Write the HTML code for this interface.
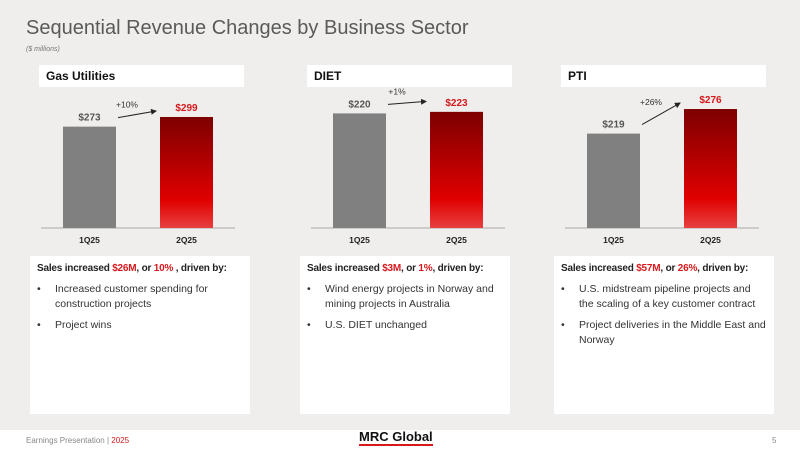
<!DOCTYPE html>
<html><head><meta charset="utf-8"><style>
body{margin:0;width:800px;height:450px;overflow:hidden;background:#fff;font-family:"Liberation Sans",sans-serif}
#bg{position:absolute;left:0;top:0;width:800px;height:430px;background:#efeeec}
.title{position:absolute;left:26px;top:17px;font-size:20px;color:#5a5a5a}
.sub{position:absolute;left:26px;top:46px;font-size:7px;color:#777;font-style:italic}
.hdr{position:absolute;top:65px;height:22px;width:205px;background:#fff;font-weight:bold;font-size:12px;line-height:22px;padding-left:7px;box-sizing:border-box;color:#111}
.box{position:absolute;top:256px;height:158px;background:#fff;box-sizing:border-box;padding:6px 7px;font-size:10.5px;color:#333}
.box b{color:#222;font-size:10px;letter-spacing:-0.2px;white-space:nowrap}
.r{color:#d7191c}
ul{margin:8px 0 0 0;padding:0 0 0 18px;list-style:none}
li{position:relative;margin-bottom:6px;line-height:15px}
li:before{content:"•";position:absolute;left:-18px}
svg{position:absolute;left:0;top:0}
.foot{position:absolute;top:436px;font-size:8px;color:#888}
</style></head><body>
<div id="bg"></div>
<div class="title">Sequential Revenue Changes by Business Sector</div>
<div class="sub">($ millions)</div>
<div class="hdr" style="left:39px">Gas Utilities</div>
<div class="hdr" style="left:307px">DIET</div>
<div class="hdr" style="left:561px">PTI</div>
<svg id="chart" width="800" height="450">
<defs><linearGradient id="rg" x1="0" y1="0" x2="0" y2="1"><stop offset="0" stop-color="#7d0000"/><stop offset="0.75" stop-color="#e00000"/><stop offset="1" stop-color="#e84040"/></linearGradient>
<marker id="ah" markerWidth="6" markerHeight="6" refX="5" refY="3" orient="auto"><path d="M0,0 L6,3 L0,6 z" fill="#222"/></marker></defs>
</svg>
<div class="box" style="left:30px;width:220px"><b>Sales increased <span class="r">$26M</span>, or <span class="r">10%</span> , driven by:</b><ul><li>Increased customer spending for construction projects</li><li>Project wins</li></ul></div>
<div class="box" style="left:300px;width:210px"><b>Sales increased <span class="r">$3M</span>, or <span class="r">1%</span>, driven by:</b><ul><li>Wind energy projects in Norway and mining projects in Australia</li><li>U.S. DIET unchanged</li></ul></div>
<div class="box" style="left:554px;width:220px"><b>Sales increased <span class="r">$57M</span>, or <span class="r">26%</span>, driven by:</b><ul><li>U.S. midstream pipeline projects and the scaling of a key customer contract</li><li>Project deliveries in the Middle East and Norway</li></ul></div>
<div class="foot" style="left:26px">Earnings Presentation | <span class="r">2025</span></div>
<div style="position:absolute;left:359px;top:429px;font-weight:bold;font-size:13px;color:#111;border-bottom:2px solid #d7191c;line-height:15px">MRC Global</div>
<div class="foot" style="left:772px">5</div>
<script>
const sectors=["Gas Utilities","DIET","PTI"];
const categories=["1Q25","2Q25"];
const q1Values=[273,220,219];
const q2Values=[299,223,276];
const changeLabels=["+10%","+1%","+26%"];
const domainMax=[404,288,348];
const panelX=[41,311,565];
const svg=document.getElementById('chart');
const NS="http://www.w3.org/2000/svg";
function mk(t,a){const e=document.createElementNS(NS,t);for(const k in a)e.setAttribute(k,a[k]);svg.appendChild(e);return e;}
const base=228,H=150;
sectors.forEach((s,i)=>{
  const y=v=>base-v/domainMax[i]*H;
  const px=panelX[i];
  const ax=mk('line',{x1:px,y1:base,x2:px+194,y2:base,stroke:'#aaa','stroke-width':1});
  
  
  const vals=[q1Values[i],q2Values[i]];
  const bx=[px+22,px+119];
  vals.forEach((v,j)=>{
    const r=mk('rect',{x:bx[j],y:y(v),width:53,height:base-y(v),fill:j?'url(#rg)':'#808080'});
    
    
    const t=mk('text',{x:bx[j]+26.5,y:y(v)-6,'text-anchor':'middle','font-size':10,'font-weight':'bold',fill:j?'#d7191c':'#555','font-family':'Liberation Sans'});
    t.textContent='$'+v;
    
    
    const c=mk('text',{x:bx[j]+26.5,y:base+15,'text-anchor':'middle','font-size':8.5,'font-weight':'bold',fill:'#222','font-family':'Liberation Sans'});
    c.textContent=categories[j];
    
    
  });
  const y1=y(vals[0])-9,y2=Math.min(y(vals[1])-6,y1-3);
  const a=mk('line',{x1:bx[0]+55,y1:y1,x2:bx[1]-4,y2:y2,stroke:'#222','stroke-width':1,'marker-end':'url(#ah)'});
  
  
  const ct=mk('text',{x:bx[0]+64,y:Math.min(y1-10,y2+2),'text-anchor':'middle','font-size':8.5,fill:'#333','font-family':'Liberation Sans'});
  ct.textContent=changeLabels[i];
  
  
});
</script>
</body></html>
